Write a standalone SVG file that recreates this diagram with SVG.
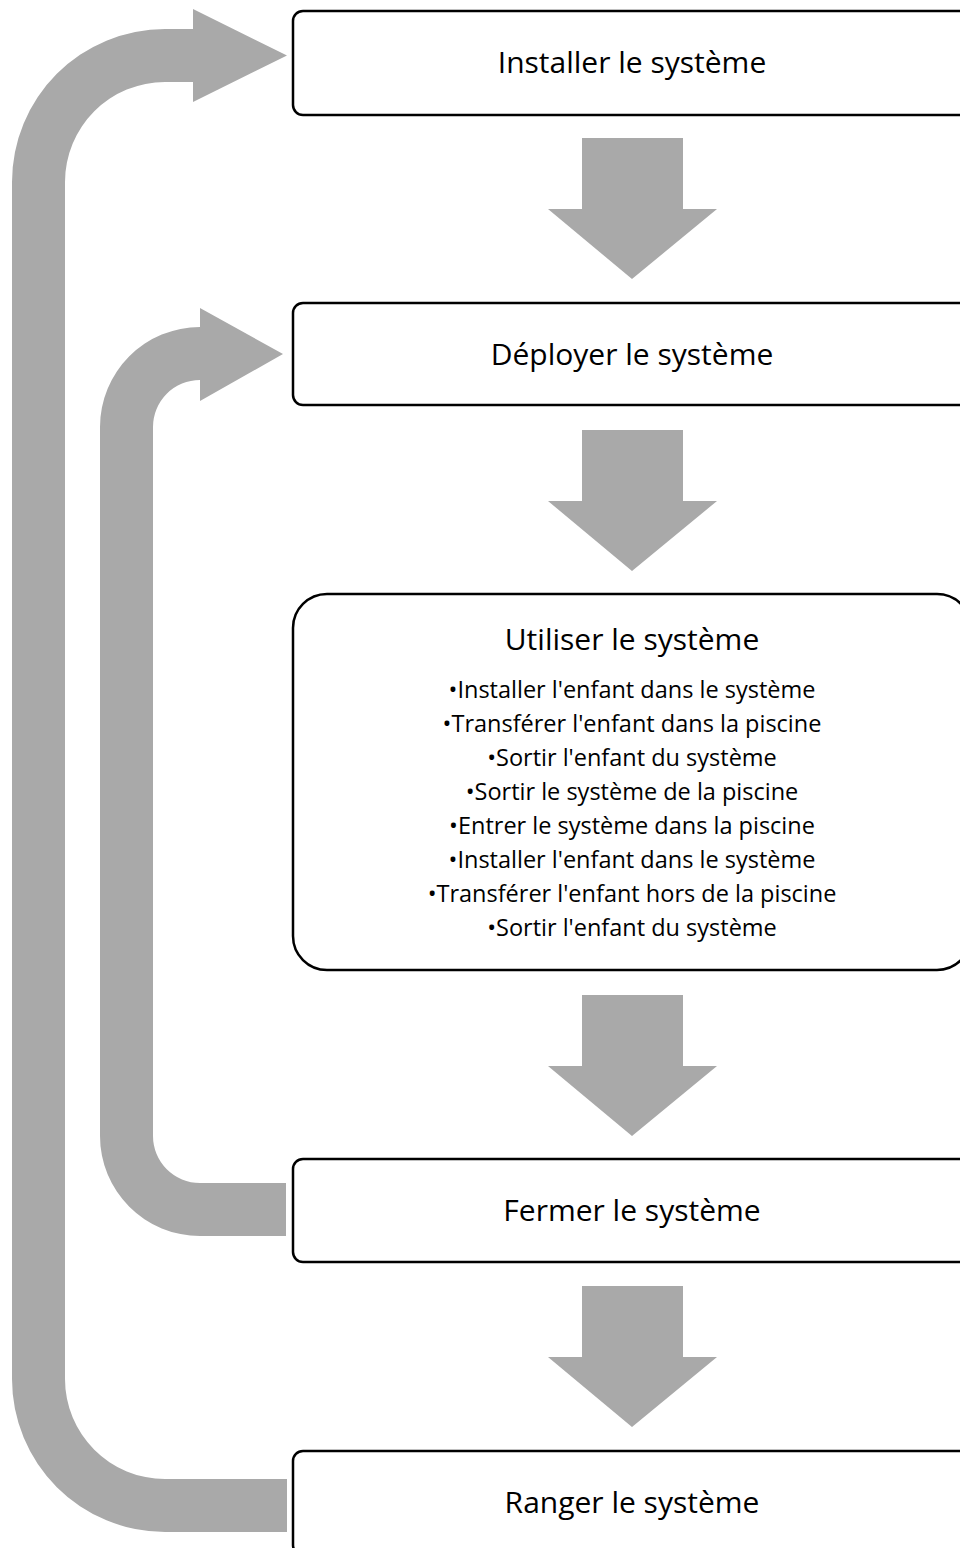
<svg xmlns="http://www.w3.org/2000/svg" width="960" height="1548" viewBox="0 0 960 1548">
<style>
.box{fill:#fff;stroke:#000;stroke-width:2.5}
.arr{fill:#A9A9A9;stroke:none}
.t{font-family:"Open Sans","Liberation Sans",sans-serif;font-size:30px;fill:#000;text-anchor:middle}
.b{font-family:"Open Sans","Liberation Sans",sans-serif;font-size:23.5px;fill:#000;text-anchor:middle}
</style>
<defs>
<path id="down" d="M0,0 H101 V71 H135 L50,141 L-34,71 H0 Z"/>
</defs>
<rect width="960" height="1548" fill="#fff"/>
<g id="connectors">
<path class="arr" d="M193,29 L165,29 A153 153 0 0 0 12,182 L12,1379 A153 153 0 0 0 165,1532 L287,1532 L287,1479 L165,1479 A100 100 0 0 1 65,1379 L65,182 A100 100 0 0 1 165,82 L193,82 L193,102 L287,55.5 L193,9 Z"/>
<path class="arr" d="M200,327 A100 100 0 0 0 100,427 L100,1136 A100 100 0 0 0 200,1236 L286,1236 L286,1183 L200,1183 A47 47 0 0 1 153,1136 L153,427 A47 47 0 0 1 200,380 L200,401 L283,354 L200,308 Z"/>
<use href="#down" class="arr" x="582" y="138"/>
<use href="#down" class="arr" x="582" y="430"/>
<use href="#down" class="arr" x="582" y="995"/>
<use href="#down" class="arr" x="582" y="1286"/>
</g>
<g id="n1">
<rect class="box" x="293" y="11" width="678" height="104" rx="10"/>
<text class="t" x="632" y="73">Installer le système</text>
</g>
<g id="n2">
<rect class="box" x="293" y="303" width="678" height="102" rx="10"/>
<text class="t" x="632" y="365">Déployer le système</text>
</g>
<g id="n3">
<rect class="box" x="293" y="594" width="678" height="376" rx="34"/>
<text class="t" x="632" y="650">Utiliser le système</text>
<text class="b" x="632" y="698">•Installer l'enfant dans le système</text>
<text class="b" x="632" y="732">•Transférer l'enfant dans la piscine</text>
<text class="b" x="632" y="766">•Sortir l'enfant du système</text>
<text class="b" x="632" y="800">•Sortir le système de la piscine</text>
<text class="b" x="632" y="834">•Entrer le système dans la piscine</text>
<text class="b" x="632" y="868">•Installer l'enfant dans le système</text>
<text class="b" x="632" y="902">•Transférer l'enfant hors de la piscine</text>
<text class="b" x="632" y="936">•Sortir l'enfant du système</text>
</g>
<g id="n4">
<rect class="box" x="293" y="1159" width="678" height="103" rx="10"/>
<text class="t" x="632" y="1221">Fermer le système</text>
</g>
<g id="n5">
<rect class="box" x="293" y="1451" width="678" height="104" rx="10"/>
<text class="t" x="632" y="1513">Ranger le système</text>
</g>
</svg>
